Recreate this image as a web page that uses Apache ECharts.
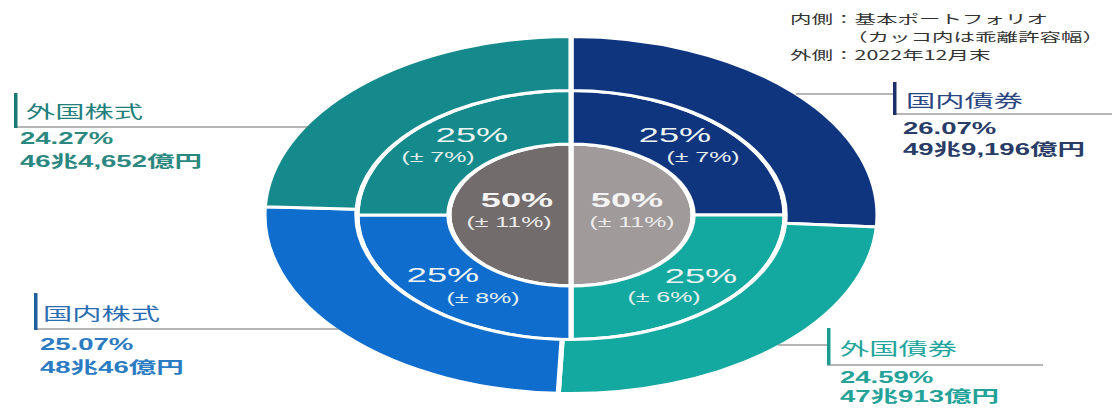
<!DOCTYPE html>
<html>
<head>
<meta charset="utf-8">
<script src="https://cdn.jsdelivr.net/npm/echarts@6/dist/echarts.min.js"></script>
<style>
  html, body { margin: 0; padding: 0; background: #ffffff; overflow: hidden; }
  #wrap { position: relative; width: 1116px; height: 408px; overflow: hidden; }
  /* the whole drawing is laid out narrow and widened, giving the oval look */
  #chart { position: absolute; left: 0; top: 0; width: 649px; height: 408px;
           transform: scaleX(1.72); transform-origin: 0 0; }
</style>
</head>
<body>
<div id="wrap"><div id="chart"></div></div>
<script>
// asset classes, clockwise from 12 o'clock
const assetNames    = ['国内債券', '外国債券', '国内株式', '外国株式'];
const actualShares  = [26.07, 24.59, 25.07, 24.27];          // outer ring, end of Dec 2022 (%)
const actualAmounts = ['49兆9,196億円', '47兆913億円', '48兆46億円', '46兆4,652億円'];
const policyShares  = [25, 25, 25, 25];                      // inner ring, policy portfolio (%)
const policyBands   = [7, 6, 8, 7];                          // allowed deviation (±%)
const groupNames    = ['債券', '株式'];
const groupShares   = [50, 50];
const groupBands    = [11, 11];
const noteLines     = ['内側：基本ポートフォリオ', '（カッコ内は乖離許容幅）', '外側：2022年12月末'];

const SX = 1.72;                       // horizontal widening applied by CSS
const X = v => v / SX;                 // page pixels -> chart pixels
const CENTER = [X(571), 215];

const sliceColors = ['#10357f', '#14a9a0', '#0f6ecd', '#158a8c'];
const groupColors = ['#a09a9a', '#736c6c'];
const nameColors  = ['#2a4682', '#22a59c', '#2a6cb0', '#1f807c'];
const numColors   = ['#283c66', '#22a298', '#2a7bc2', '#2a8880'];
const barColors   = ['#1c2f6a', '#1e9a92', '#1f5f9f', '#1a7a75'];

const LATIN = '"Liberation Sans", "Noto Sans CJK JP", sans-serif';
const CJK = '"Noto Sans CJK JP", "Liberation Sans", sans-serif';

function ringSeries(name, radius, values, names, colors) {
  return {
    type: 'pie', name, radius, center: CENTER,
    startAngle: 90, clockwise: true, silent: true,
    avoidLabelOverlap: false, label: { show: false }, labelLine: { show: false },
    emphasis: { disabled: true },
    itemStyle: { borderColor: '#ffffff', borderWidth: 3 },
    data: values.map((v, i) => ({ name: names[i], value: v, itemStyle: { color: colors[i] } }))
  };
}

function txt(text, x, y, font, fill, align) {
  return {
    type: 'text', silent: true, z: 10,
    style: { text, x: X(x), y, font, fill,
             align: align || 'center', verticalAlign: 'middle',
             textAlign: align || 'center', textVerticalAlign: 'middle' }
  };
}
function line(x1, y1, x2, y2, color, w) {
  return { type: 'line', silent: true, z: 9,
           shape: { x1: X(x1), y1, x2: X(x2), y2 },
           style: { stroke: color || '#6e6e6e', lineWidth: w || 1 } };
}
function bar(x, y1, y2, color) {
  return { type: 'rect', silent: true, z: 9,
           shape: { x: X(x), y: y1, width: X(3.5), height: y2 - y1 },
           style: { fill: color } };
}

const graphics = [];

// inner-ring and centre labels (order: 国内債券, 外国債券, 国内株式, 外国株式)
const policyPos = [
  { a: [675, 135], b: [703, 157] },
  { a: [701, 276], b: [664, 297] },
  { a: [443, 275], b: [483, 298] },
  { a: [472, 135], b: [438, 157] }
];
policyShares.forEach((v, i) => {
  const p = policyPos[i];
  graphics.push(txt(v + '%', p.a[0], p.a[1], '21px ' + LATIN, '#eef4f4'));
  graphics.push(txt('(± ' + policyBands[i] + '%)', p.b[0], p.b[1], '14.5px ' + LATIN, '#e6eeee'));
});
const groupPos = [
  { a: [627, 200], b: [632, 222] },
  { a: [517, 200], b: [509, 222] }
];
groupShares.forEach((v, i) => {
  const p = groupPos[i];
  graphics.push(txt(v + '%', p.a[0], p.a[1], 'bold 21px ' + LATIN, '#f4f4f4'));
  graphics.push(txt('(± ' + groupBands[i] + '%)', p.b[0], p.b[1], '14.5px ' + LATIN, '#ececec'));
});

// outer callouts: bar position, text anchor, underline, connector
const callouts = [
  { bar: [893, 82, 115], name: [906, 100], n1: [903, 129], n2: [903, 150],
    under: [893, 114, 1112], conn: [796, 94, 893] },
  { bar: [827, 328, 365], name: [840, 348], n1: [840, 378], n2: [840, 397],
    under: [827, 365, 1043], conn: [778, 345, 827] },
  { bar: [34, 293, 330], name: [43, 313], n1: [40, 345], n2: [40, 368],
    under: [34, 329, 339], conn: null },
  { bar: [14, 93, 128], name: [26, 111], n1: [20, 139], n2: [20, 162],
    under: [14, 127, 308], conn: null }
];
callouts.forEach((c, i) => {
  graphics.push(line(c.under[0], c.under[1], c.under[2], c.under[1]));
  if (c.conn) graphics.push(line(c.conn[0], c.conn[1], c.conn[2], c.conn[1]));
  graphics.push(bar(c.bar[0], c.bar[1], c.bar[2], barColors[i]));
  graphics.push(txt(assetNames[i], c.name[0], c.name[1], '17px ' + CJK, nameColors[i], 'left'));
  graphics.push(txt(actualShares[i].toFixed(2) + '%', c.n1[0], c.n1[1], 'bold 16px ' + LATIN, numColors[i], 'left'));
  graphics.push(txt(actualAmounts[i], c.n2[0], c.n2[1], 'bold 16px ' + LATIN, numColors[i], 'left'));
});

// note in the top-right corner
const notePos = [[790, 19], [846, 37], [790, 55]];
noteLines.forEach((t, i) => {
  graphics.push(txt(t, notePos[i][0], notePos[i][1], '12.5px ' + CJK, '#333333', 'left'));
});

const chart = echarts.init(document.getElementById('chart'), null, { renderer: 'svg' });
chart.setOption({
  backgroundColor: 'transparent',
  animation: false,
  series: [
    ringSeries('資産クラス（内側）', [0, 71], groupShares, groupNames, groupColors),
    ringSeries('基本ポートフォリオ', [71, 124.5], policyShares, assetNames, sliceColors),
    ringSeries('2022年12月末', [124.5, 178.5], actualShares, assetNames, sliceColors)
  ],
  graphic: { elements: graphics }
});
</script>
</body>
</html>
